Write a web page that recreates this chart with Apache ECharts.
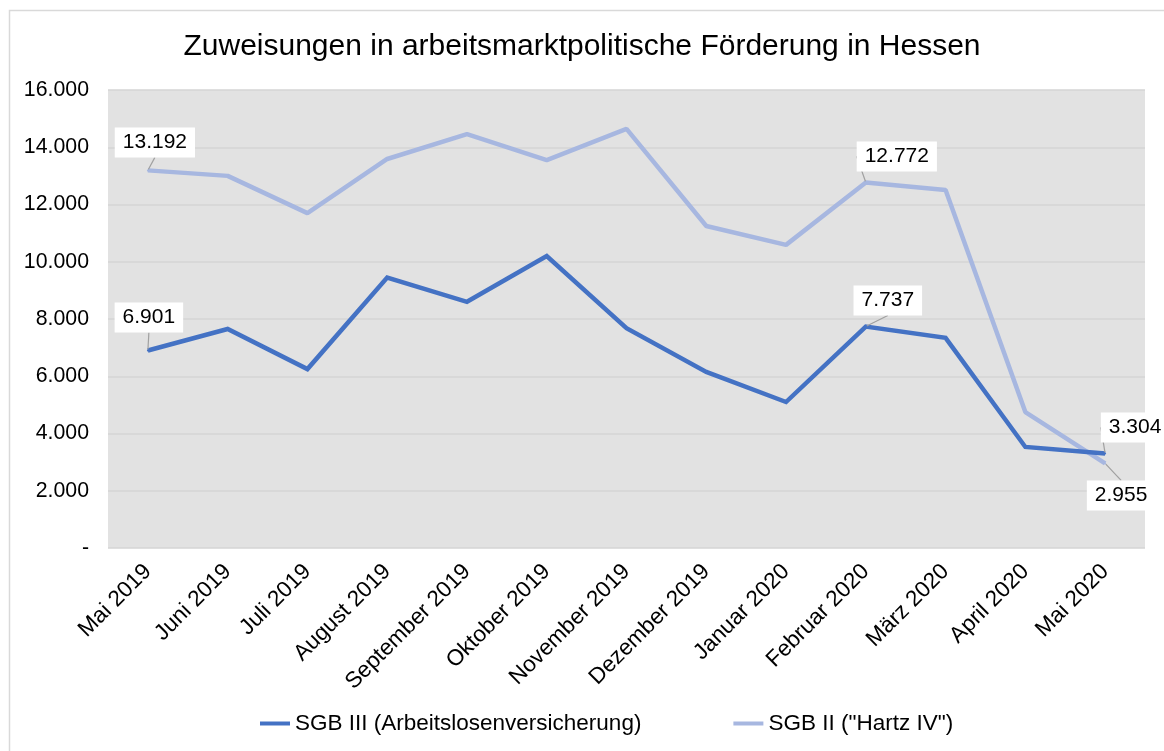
<!DOCTYPE html>
<html>
<head>
<meta charset="utf-8">
<script src="https://cdn.jsdelivr.net/npm/echarts@6/dist/echarts.min.js"></script>
<style>html,body{margin:0;padding:0;background:#fff}#c{width:1164px;height:751px}</style>
</head>
<body>
<div id="c"></div>
<script>
const categories = ['Mai 2019','Juni 2019','Juli 2019','August 2019','September 2019','Oktober 2019','November 2019','Dezember 2019','Januar 2020','Februar 2020','März 2020','April 2020','Mai 2020'];
const sgb3 = [6901, 7650, 6250, 9450, 8600, 10200, 7680, 6150, 5100, 7737, 7340, 3530, 3304];
const sgb2 = [13192, 13000, 11700, 13590, 14460, 13550, 14640, 11250, 10590, 12772, 12510, 4750, 2955];
const yTicks = [0, 2000, 4000, 6000, 8000, 10000, 12000, 14000, 16000];
const labeledIdx = [0, 9, 12];

const FONT = '"Liberation Sans", Arial, sans-serif';
const fmt = v => v === 0 ? '-' : String(v).replace(/\B(?=(\d{3})+(?!\d))/g, '.');

// label offsets (label centre relative to point) per series and labeled index
const off3 = {0: [1, -33], 9: [22, -26], 12: [30, -26]};
const off2 = {0: [7, -28], 9: [31, -26], 12: [16, 32]};

function build(vals) {
  return vals.map((v, i) => labeledIdx.indexOf(i) < 0 ? v : {value: v, label: {show: true}});
}
function layoutFor(offs) {
  return function (p) {
    const o = offs[p.dataIndex];
    return o ? {dx: o[0], dy: o[1]} : {};
  };
}

const chart = echarts.init(document.getElementById('c'), null, {renderer: 'canvas'});
const labelStyle = {
  show: false,
  position: 'inside',
  formatter: p => fmt(p.value),
  color: '#000',
  fontFamily: FONT,
  fontSize: 21,
  backgroundColor: '#fff',
  padding: [5, 8, 4, 8]
};
chart.setOption({
  animation: false,
  backgroundColor: '#fff',
  textStyle: {fontFamily: FONT},
  title: {
    text: 'Zuweisungen in arbeitsmarktpolitische Förderung in Hessen',
    left: 'center',
    top: 27,
    textStyle: {fontFamily: FONT, fontSize: 30, fontWeight: 'normal', color: '#000'}
  },
  graphic: [{
    type: 'rect',
    shape: {x: 9.5, y: 10.5, width: 1200, height: 800},
    style: {fill: 'none', stroke: '#d9d9d9', lineWidth: 1.5},
    silent: true, z: -1
  }],
  legend: {
    bottom: 11,
    left: 255,
    itemWidth: 30,
    itemHeight: 4,
    itemGap: 92,
    icon: 'rect',
    textStyle: {fontFamily: FONT, fontSize: 22.5, color: '#000'},
    data: ['SGB III (Arbeitslosenversicherung)', 'SGB II ("Hartz IV")']
  },
  grid: {
    left: 108, right: 19, top: 90, bottom: 203,
    show: true, backgroundColor: '#e2e2e2', borderWidth: 0
  },
  xAxis: {
    type: 'category',
    data: categories,
    boundaryGap: true,
    axisLine: {show: false},
    axisTick: {show: false},
    axisLabel: {rotate: 45, fontFamily: FONT, fontSize: 22.5, color: '#000', margin: 20, interval: 0}
  },
  yAxis: {
    type: 'value',
    min: 0, max: 16000, interval: 2000,
    axisLine: {show: false},
    axisTick: {show: false},
    splitLine: {lineStyle: {color: '#d5d5d5', width: 1.5}},
    axisLabel: {formatter: fmt, fontFamily: FONT, fontSize: 21.3, color: '#000', margin: 19}
  },
  series: [
    {
      name: 'SGB III (Arbeitslosenversicherung)',
      type: 'line',
      data: build(sgb3),
      symbol: 'circle',
      symbolSize: 2,
      showSymbol: true,
      lineStyle: {width: 4.5, color: '#4472C4', join: 'miter'},
      itemStyle: {color: '#4472C4'},
      label: labelStyle,
      labelLayout: layoutFor(off3),
      labelLine: {show: true, lineStyle: {color: '#a0a0a0', width: 1.2}, smooth: false},
      z: 3
    },
    {
      name: 'SGB II ("Hartz IV")',
      type: 'line',
      data: build(sgb2),
      symbol: 'circle',
      symbolSize: 2,
      showSymbol: true,
      lineStyle: {width: 4.5, color: '#A7B7E0'},
      itemStyle: {color: '#A7B7E0'},
      label: labelStyle,
      labelLayout: layoutFor(off2),
      labelLine: {show: true, lineStyle: {color: '#a0a0a0', width: 1.2}, smooth: false},
      z: 2
    }
  ]
});
</script>
</body>
</html>
